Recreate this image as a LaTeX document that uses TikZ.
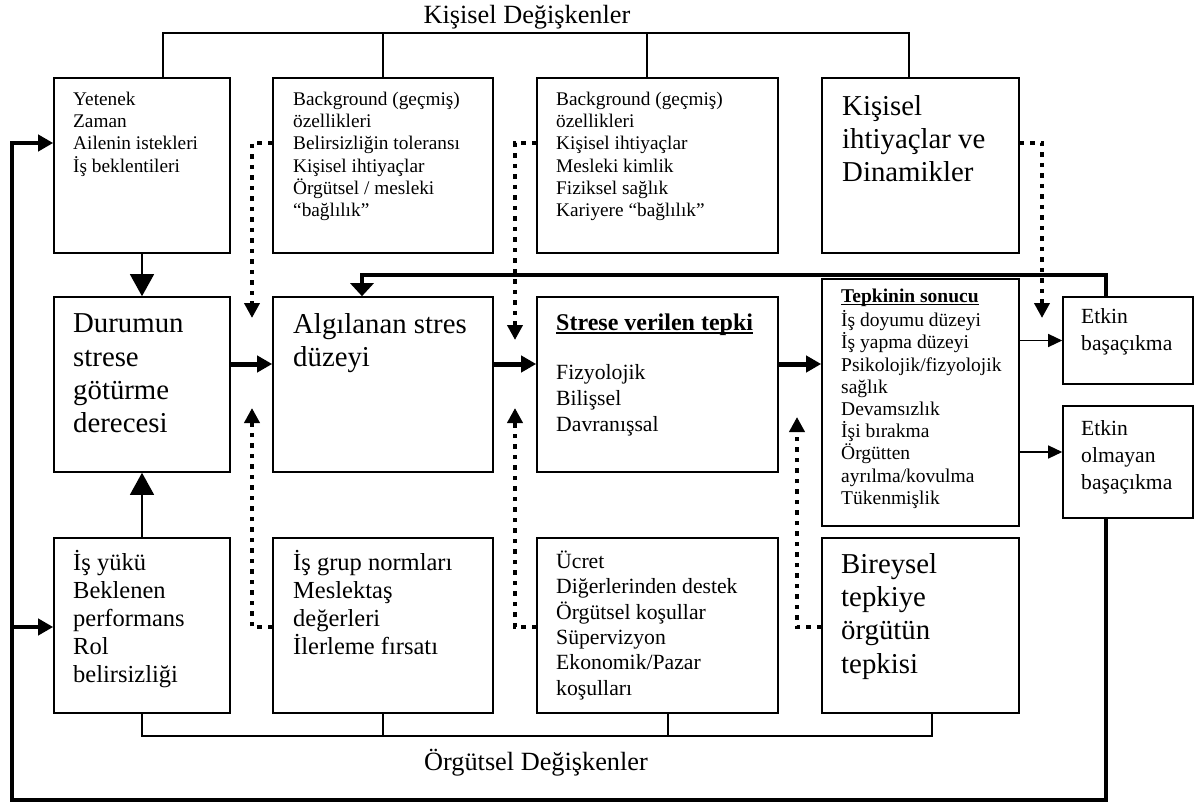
\documentclass[tikz,border=0pt]{standalone}
\usepackage{fontspec}
\setmainfont{Liberation Serif}
\usetikzlibrary{arrows.meta,calc}
\newcommand\undl[2]{\setbox0\hbox{#2}\rlap{\rule[-#1]{\wd0}{1.6pt}}\box0}
\begin{document}
\begin{tikzpicture}[x=1pt,y=-1pt,
  box/.style={draw, line width=1.6pt, inner sep=0pt, line join=miter},
  txt/.style={anchor=north west, inner sep=0pt, align=left},
  fsm/.style={font=\fontsize{19.3}{22.3}\selectfont},
  fh/.style={font=\fontsize{19.5}{22.2}\selectfont},
  flg/.style={font=\fontsize{28.8}{33.3}\selectfont},
  fmd/.style={font=\fontsize{24.5}{28}\selectfont},
  fm/.style={font=\fontsize{21.7}{25.3}\selectfont},
  fg/.style={font=\fontsize{21.7}{26}\selectfont},
  fgh/.style={font=\fontsize{24}{27}\selectfont\bfseries},
  fe/.style={font=\fontsize{21.6}{27}\selectfont},
  flab/.style={font=\fontsize{26.3}{30}\selectfont, inner sep=0pt},
  conn/.style={line width=1.3pt},
  thinbig/.style={line width=1.3pt, -{Triangle[length=22pt,width=24pt]}},
  thinsm/.style={line width=1.3pt, -{Triangle[length=14pt,width=13pt]}},
  thk/.style={line width=5pt, -{Triangle[length=15pt,width=16pt]}},
  loopl/.style={line width=4.5pt, line join=miter},
  dots/.style={line width=4.5pt, dash pattern=on 4.5pt off 6pt, -{Triangle[length=15pt,width=15pt]}}
]
\fill[white] (0,0) rectangle (1200,805);
\useasboundingbox (0,0) rectangle (1200,805);

% boxes
\node[box,minimum width=176pt,minimum height=175pt] (A) at (142,165.5) {};
\node[box,minimum width=220pt,minimum height=175pt] (B) at (383,165.5) {};
\node[box,minimum width=241pt,minimum height=175pt] (C) at (657.5,165.5) {};
\node[box,minimum width=197pt,minimum height=175pt] (D) at (920.5,165.5) {};
\node[box,minimum width=176pt,minimum height=175pt] (E) at (142,384.5) {};
\node[box,minimum width=220pt,minimum height=175pt] (F) at (383,384.5) {};
\node[box,minimum width=241pt,minimum height=175pt] (G) at (657.5,384.5) {};
\node[box,minimum width=197pt,minimum height=247pt] (H) at (920.5,402.5) {};
\node[box,minimum width=130pt,minimum height=87pt] (I) at (1128,340.5) {};
\node[box,minimum width=130pt,minimum height=112pt] (J) at (1128,462) {};
\node[box,minimum width=176pt,minimum height=175pt] (K) at (142,625.5) {};
\node[box,minimum width=220pt,minimum height=175pt] (L) at (383,625.5) {};
\node[box,minimum width=241pt,minimum height=175pt] (M) at (657.5,625.5) {};
\node[box,minimum width=197pt,minimum height=175pt] (N) at (920.5,625.5) {};

% texts
\node[txt,fsm] (At) at (73,89.4) {\strut Yetenek\\Zaman\\Ailenin istekleri\\İş beklentileri};
\node[txt,fsm] (Bt) at (293,89.4) {\strut Background (geçmiş)\\özellikleri\\Belirsizliğin toleransı\\Kişisel ihtiyaçlar\\Örgütsel / mesleki\\“bağlılık”};
\node[txt,fsm] (Ct) at (556,89.4) {\strut Background (geçmiş)\\özellikleri\\Kişisel ihtiyaçlar\\Mesleki kimlik\\Fiziksel sağlık\\Kariyere “bağlılık”};
\node[txt,flg] (Dt) at (842,91.7) {\strut Kişisel\\ihtiyaçlar ve\\Dinamikler};
\node[txt,flg] (Et) at (73,309.4) {\strut Durumun\\strese\\götürme\\derecesi};
\node[txt,flg] (Ft) at (293,309.7) {\strut Algılanan stres\\düzeyi};
\node[txt,fgh] (Gh) at (556,311.1) {\strut\undl{3.5pt}{Strese verilen tepki}};
\node[txt,fg] (Gt) at (556,360.8) {\strut Fizyolojik\\Bilişsel\\Davranışsal};
\node[txt,fh] (Ht) at (841,287.2) {\strut\undl{2.5pt}{\bfseries Tepkinin sonucu}\\İş doyumu düzeyi\\İş yapma düzeyi\\Psikolojik/fizyolojik\\sağlık\\Devamsızlık\\İşi bırakma\\Örgütten\\ayrılma/kovulma\\Tükenmişlik};
\node[txt,fe] (It) at (1081,304.1) {\strut Etkin\\başaçıkma};
\node[txt,fe] (Jt) at (1081,416.3) {\strut Etkin\\olmayan\\başaçıkma};
\node[txt,fmd] (Kt) at (73,550.4) {\strut İş yükü\\Beklenen\\performans\\Rol\\belirsizliği};
\node[txt,fmd] (Lt) at (293,550.4) {\strut İş grup normları\\Meslektaş\\değerleri\\İlerleme fırsatı};
\node[txt,fm] (Mt) at (556,550.6) {\strut Ücret\\Diğerlerinden destek\\Örgütsel koşullar\\Süpervizyon\\Ekonomik/Pazar\\koşulları};
\node[txt,flg] (Nt) at (841,549.7) {\strut Bireysel\\tepkiye\\örgütün\\tepkisi};

% labels
\node[flab,anchor=base] (kl) at (527,24) {Kişisel Değişkenler};
\node[flab,anchor=base] (ol) at (536,770) {Örgütsel Değişkenler};

% top bracket
\coordinate (kbar) at (0,33);
\draw[conn] ([xshift=21pt]A.north) -- ([xshift=21pt]A.north |- kbar) -- ([xshift=-11.5pt]D.north |- kbar) -- ([xshift=-11.5pt]D.north);
\draw[conn] (B.north) -- (B.north |- kbar);
\draw[conn] ([xshift=-10.5pt]C.north) -- ([xshift=-10.5pt]C.north |- kbar);

% bottom bracket
\coordinate (obar) at (0,736);
\draw[conn] (K.south) -- (K.south |- obar) -- ([xshift=11.5pt]N.south |- obar) -- ([xshift=11.5pt]N.south);
\draw[conn] (L.south) -- (L.south |- obar);
\draw[conn] ([xshift=10.5pt]M.south) -- ([xshift=10.5pt]M.south |- obar);

% vertical thin arrows
\draw[thinbig] (A.south) -- (E.north);
\draw[thinbig] (K.north) -- (E.south);

% main thick arrows
\coordinate (mainy) at ([yshift=20.5pt]G.east);
\coordinate (jy) at ([yshift=10pt]J.west);
\draw[thk] ([yshift=20.5pt]E.east) -- ([yshift=20.5pt]F.west);
\draw[thk] ([yshift=20.5pt]F.east) -- ([yshift=20.5pt]G.west);
\draw[thk] (mainy) -- (H.west |- mainy);

% outcome arrows
\draw[thinsm] (H.east |- I.west) -- (I.west);
\draw[thinsm] (H.east |- jy) -- (jy);

% feedback from effective coping
\coordinate (ft) at (0,275);
\draw[loopl, -{Triangle[length=13pt,width=23pt]}] ([xshift=-22pt]I.north) -- ([xshift=-22pt]I.north |- ft) -- ([xshift=-21pt]F.north |- ft) -- ([xshift=-21pt]F.north);

% big loop from ineffective coping
\coordinate (lb) at (12,800);
\coordinate (lt) at (12,143);
\coordinate (lk) at (12,627);
\draw[loopl, -{Triangle[length=15pt,width=16pt]}] ([xshift=-22pt]J.south) |- (lb) -- (lt) -- (lt -| A.west);
\draw[loopl, -{Triangle[length=15pt,width=16pt]}] (lk) -- (lk -| K.west);

% dotted moderators
\coordinate (d1t) at (252,318);
\coordinate (d1b) at (252,408);
\coordinate (d2t) at (515,340);
\coordinate (d2b) at (515,408);
\coordinate (d3t) at (1042,318);
\coordinate (d4b) at (797,417);
\draw[dots] ([yshift=22.5pt]B.west) -| (d1t);
\draw[dots] ([yshift=-1.5pt]L.west) -| (d1b);
\draw[dots] ([yshift=22.5pt]C.west) -| (d2t);
\draw[dots] ([yshift=-1.5pt]M.west) -| (d2b);
\draw[dots] ([yshift=22.5pt]D.east) -| (d3t);
\draw[dots] ([yshift=-1.5pt]N.west) -| (d4b);
\end{tikzpicture}
\end{document}
